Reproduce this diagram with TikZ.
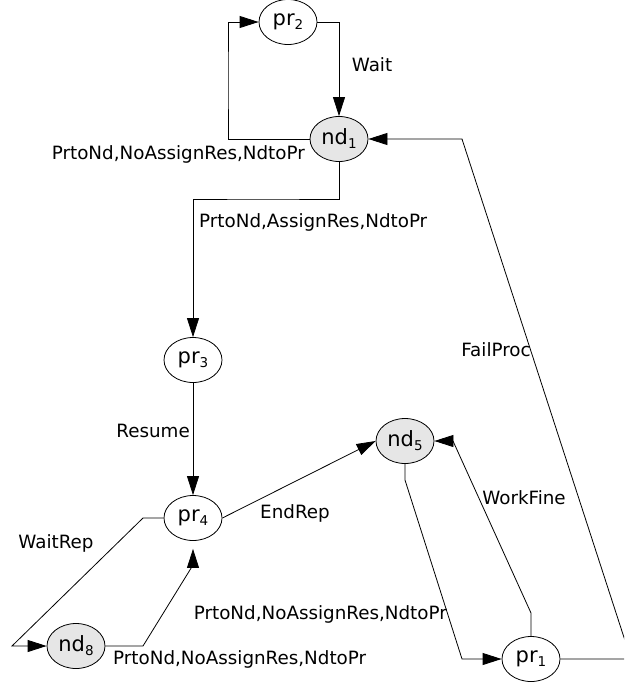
\documentclass[tikz,border=0pt]{standalone}
\usepackage{fontspec}
\setmainfont{DejaVu Sans}
\usetikzlibrary{arrows.meta,shapes.geometric}
\definecolor{placefill}{HTML}{E6E6E6}

% place name with a lowered index, e.g. pr_1
\newcommand\placename[2]{#1\raisebox{-4pt}{\fontsize{13.5}{13.5}\selectfont #2}}

\tikzset{
  state/.style={ellipse, draw, line width=0.8pt, fill=white,
    minimum width=58pt, minimum height=45pt, inner sep=0pt,
    font=\fontsize{21}{21}\selectfont},
  resource/.style={state, fill=placefill},
  arc/.style={draw, line width=0.8pt,
    -{Triangle[length=19pt,width=12pt]}},
  arclabel/.style={inner sep=0pt, font=\fontsize{18.3}{18.3}\selectfont}
}

\begin{document}
\begin{tikzpicture}[x=1pt,y=-1pt]
  \useasboundingbox (0,0) rectangle (624,688);
  \clip (0,0) rectangle (624,688);

  % places
  \node[state]    (pr2) at (288,22)  {\placename{pr}{2}};
  \node[resource] (nd1) at (339,139) {\placename{nd}{1}};
  \node[state]    (pr3) at (193,360) {\placename{pr}{3}};
  \node[state]    (pr4) at (193,518) {\placename{pr}{4}};
  \node[resource] (nd5) at (405,441) {\placename{nd}{5}};
  \node[resource] (nd8) at (76,646)  {\placename{nd}{8}};
  \node[state]    (pr1) at (531,659) {\placename{pr}{1}};

  % bend points
  \coordinate (waitcorner) at (143,518);
  \coordinate (waitfoot)   at (12,646);
  \coordinate (retcorner)  at (143,646);
  \coordinate (retknee)    at (193,565);
  \coordinate (dnknee)     at (405,480);
  \coordinate (dnfoot)     at (462,659);
  \coordinate (okknee)     at (531,613);
  \coordinate (oktop)      at (453,441);
  \coordinate (failfoot)   at (631,659);
  \coordinate (failtop)    at (462,139);

  % arcs
  \draw[arc] (nd1.west) -| (228,80) |- (pr2.west);
  \draw[arc] (pr2.east) -| (nd1.north);
  \draw[arc] (nd1.south) |- (260,199) -| (pr3.north);
  \draw[arc] (pr3) -- (pr4);
  \draw[arc] (pr4.east) -- (nd5.west);
  \draw[arc] (pr4.west) -- (waitcorner) -- (waitfoot) -- (nd8.west);
  \draw[arc] (nd8.east) -- (retcorner) -- (retknee) -- ([yshift=-8pt]pr4.south);
  \draw[arc] (nd5.south) -- (dnknee) -- (dnfoot) -- (pr1.west);
  \draw[arc] (pr1.north) -- (okknee) -- (oktop) -- (nd5.east);
  \draw[arc] (pr1.east) -- (failfoot) -- (failtop) -- (nd1.east);

  % arc labels
  \node[arclabel, anchor=east] (l1) at (305,154) {PrtoNd,NoAssignRes,NdtoPr};
  \node[arclabel] (l2) at (372,65) {Wait};
  \node[arclabel, anchor=west] (l3) at (199,222) {PrtoNd,AssignRes,NdtoPr};
  \node[arclabel, anchor=east] (l4) at (190,431) {Resume};
  \node[arclabel] (l5) at (295,513) {EndRep};
  \node[arclabel] (l6) at (56,543) {WaitRep};
  \node[arclabel] (l7) at (496,350) {FailProc};
  \node[arclabel] (l8) at (524,498) {WorkFine};
  \node[arclabel, anchor=east] (l9) at (447,614) {PrtoNd,NoAssignRes,NdtoPr};
  \node[arclabel, anchor=west] (l10) at (113,659) {PrtoNd,NoAssignRes,NdtoPr};
\end{tikzpicture}
\end{document}
